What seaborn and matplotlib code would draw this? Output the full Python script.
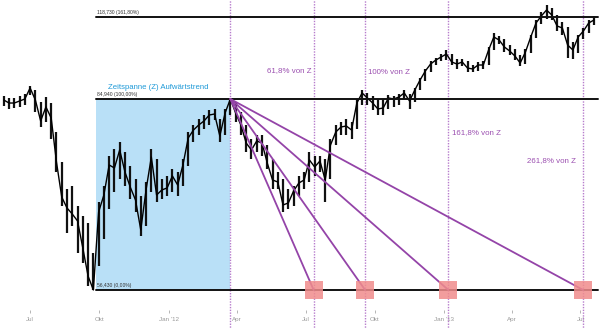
import numpy as np
import pandas as pd
import matplotlib
matplotlib.use("Agg")
import matplotlib.pyplot as plt
import seaborn as sns

# ---- data -------------------------------------------------------------
start_date = "2011-05-27"
close = [84.79, 84.34, 84.34, 84.64, 84.94, 89.47, 84.79, 81.66, 83.75, 82.10,
         75.54, 70.31, 68.67, 67.77, 66.73, 62.70, 58.50, 56.43, 68.07, 70.61,
         75.09, 74.64, 77.33, 74.04, 71.80, 69.86, 65.39, 71.36, 76.28, 70.61,
         71.36, 71.66, 73.45, 72.10, 75.09, 79.12, 80.31, 81.06, 81.66, 82.55,
         82.70, 79.42, 82.85, 84.94, 82.85, 81.06, 78.37, 77.33, 78.67, 78.37,
         75.39, 72.85, 72.55, 69.12, 69.42, 71.21, 72.40, 72.85, 75.84, 74.79,
         75.69, 72.85, 78.07, 80.01, 80.76, 80.91, 80.31, 84.34, 87.41, 85.35,
         84.34, 83.45, 83.60, 85.35, 84.94, 85.76, 87.41, 84.64, 88.65, 92.77,
         96.48, 99.36, 101.01, 102.25, 103.48, 100.19, 99.36, 100.19, 97.71, 97.30,
         98.95, 98.95, 105.13, 110.49, 109.25, 106.37, 104.72, 102.66, 99.77, 104.31,
         110.49, 116.26, 119.14, 121.61, 119.55, 115.02, 114.20, 107.19, 105.13, 110.49,
         112.96, 116.26, 117.49]
low = [83.9, 83.4, 83.6, 83.8, 84.0, 86.5, 83.0, 80.8, 81.5, 79.0,
       74.0, 69.0, 65.0, 66.0, 62.0, 60.5, 57.0, 56.43, 60.0, 64.0,
       68.5, 71.0, 73.0, 72.0, 70.0, 68.0, 64.5, 66.0, 71.0, 69.5,
       70.0, 70.5, 71.0, 70.5, 72.0, 75.0, 78.5, 79.5, 80.5, 81.0,
       81.8, 78.5, 79.5, 82.5, 81.5, 79.5, 77.0, 76.0, 77.0, 76.5,
       74.5, 71.5, 71.5, 68.0, 68.5, 69.0, 70.5, 71.5, 72.5, 73.5,
       74.0, 69.5, 73.0, 78.0, 79.5, 79.5, 79.0, 80.5, 84.0, 84.0,
       83.3, 82.5, 82.5, 83.5, 83.8, 84.0, 85.0, 83.5, 84.5, 88.5,
       92.5, 96.0, 99.0, 100.5, 101.0, 99.0, 97.5, 98.5, 96.0, 96.0,
       96.5, 97.5, 99.0, 105.0, 107.5, 104.5, 103.0, 101.0, 98.5, 99.5,
       104.0, 110.0, 116.0, 118.0, 117.5, 113.0, 111.5, 102.0, 101.5, 104.0,
       109.5, 112.0, 115.5]
high = [86.0, 85.2, 85.5, 86.1, 87.0, 90.5, 88.5, 84.5, 85.8, 84.3,
        80.0, 75.5, 71.5, 72.0, 69.0, 67.5, 66.5, 62.0, 69.5, 72.0,
        76.5, 77.5, 78.5, 77.0, 75.0, 73.0, 70.5, 72.5, 77.5, 76.0,
        73.0, 73.5, 74.5, 74.0, 76.0, 80.0, 81.0, 82.0, 82.5, 83.3,
        83.5, 82.0, 83.5, 84.94, 84.5, 83.0, 81.0, 79.0, 79.5, 79.5,
        78.0, 76.0, 74.0, 73.0, 71.5, 72.0, 73.5, 74.0, 77.0, 76.5,
        76.5, 76.0, 79.0, 81.0, 81.5, 82.0, 81.5, 85.0, 88.5, 87.5,
        86.0, 85.0, 85.0, 86.5, 86.0, 87.0, 88.5, 87.0, 89.5, 93.5,
        97.5, 100.5, 102.0, 103.5, 105.0, 103.5, 101.5, 101.5, 100.5, 99.0,
        100.0, 100.5, 106.5, 112.0, 111.0, 109.5, 107.0, 105.5, 103.0, 105.5,
        111.5, 117.5, 121.0, 123.5, 122.5, 119.5, 116.5, 114.5, 108.5, 111.5,
        114.0, 117.5, 119.0]

levels = [56.43, 84.94, 118.73]
level_labels = ["56,430 (0,00%)", "84,940 (100,00%)", "118,730 (161,80%)"]

z_start = "2011-09-26"
z_end = "2012-03-23"
ratios = [0.618, 1.0, 1.618, 2.618]
ratio_labels = ["61,8% von Z", "100% von Z", "161,8% von Z", "261,8% von Z"]
trend_label = "Zeitspanne (Z) Aufwärtstrend"

tick_dates = ["2011-07-01", "2011-10-01", "2012-01-01", "2012-04-01", "2012-07-01",
              "2012-10-01", "2013-01-01", "2013-04-01", "2013-07-01"]
tick_labels = ["Jul", "Okt", "Jan '12", "Apr", "Jul", "Okt", "Jan '13", "Apr", "Jul"]

# ---- frame ------------------------------------------------------------
dates = pd.date_range(start_date, periods=len(close), freq="7D")
df = pd.DataFrame({"date": dates, "close": close, "low": low, "high": high})

zs = pd.Timestamp(z_start)
ze = pd.Timestamp(z_end)
span = ze - zs
proj = [ze + r * span for r in ratios]

sns.set_style("white")
plt.rcParams["font.family"] = ["Liberation Sans", "DejaVu Sans"]

fig = plt.figure(figsize=(6.0, 3.29), dpi=100)
ax = fig.add_axes([0, 19 / 329, 1, 310 / 329])

# piecewise-linear y scale (chart is not drawn to scale)
lo_k = 191 / (84.94 - 56.43)
hi_k = 82 / (118.73 - 84.94)


def fwd(p):
    p = np.asarray(p, dtype=float)
    return np.where(p < 84.94, (p - 84.94) * lo_k, (p - 84.94) * hi_k)


def inv(v):
    v = np.asarray(v, dtype=float)
    return np.where(v < 0, 84.94 + v / lo_k, 84.94 + v / hi_k)


ax.set_yscale("function", functions=(fwd, inv))

# blue time span area
ax.fill_between([zs, ze], [levels[0]] * 2, [levels[1]] * 2,
                color="#b9e0f7", linewidth=0, zorder=1)

# price: weekly high-low bars + close line
ax.vlines(df["date"], df["low"], df["high"], color="#111111", linewidth=1.6, zorder=4)
sns.lineplot(data=df, x="date", y="close", ax=ax, color="black",
             linewidth=1.0, zorder=4)

# horizontal levels
x_right = pd.Timestamp("2013-07-24")
for lv, lab in zip(levels, level_labels):
    ax.plot([zs, x_right], [lv, lv], color="#111111", linewidth=1.4, zorder=5)
    ax.annotate(lab, xy=(zs, lv), xytext=(1, 1.5), textcoords="offset points",
                fontsize=3.6, color="#333333", ha="left", va="bottom", zorder=6)

# vertical dotted lines
for d in [ze] + proj:
    ax.axvline(d, ymin=-0.07, ymax=1, color="#b77ccc", linewidth=1.0,
               linestyle=(0, (1, 1)), clip_on=False, zorder=3)

# fan lines + markers
for d in proj:
    ax.plot([ze, d], [levels[1], levels[0]], color="#9444a8", linewidth=1.3, zorder=6)
ax.scatter(proj, [levels[0]] * len(proj), marker="s", s=150,
           color="#f08c8c", alpha=0.85, linewidths=0, zorder=7)

# texts
ax.text(108 / 600, (310 - 88) / 310, trend_label, transform=ax.transAxes,
        color="#1f9ad8", fontsize=5.6, ha="left", va="center")
txt_pos = [(267 / 600, (310 - 71) / 310), (368 / 600, (310 - 72) / 310),
           (452 / 600, (310 - 133) / 310), (527 / 600, (310 - 161) / 310)]
for (tx, ty), lab in zip(txt_pos, ratio_labels):
    ax.text(tx, ty, lab, transform=ax.transAxes, color="#9b4fb0",
            fontsize=5.7, ha="left", va="center")

# axes
ax.set_xlim(pd.Timestamp("2011-05-22"), pd.Timestamp("2013-07-27"))
ax.set_ylim(53.44, 125.74)
ax.set_xticks(pd.to_datetime(tick_dates))
ax.set_xticklabels(tick_labels)
ax.tick_params(axis="x", labelsize=4.5, colors="#999999", length=2, width=0.5,
               pad=3, bottom=True)
ax.set_yticks([])
ax.set_xlabel("")
ax.set_ylabel("")
for s in ax.spines.values():
    s.set_visible(False)

fig.savefig("out.png", dpi=100)
